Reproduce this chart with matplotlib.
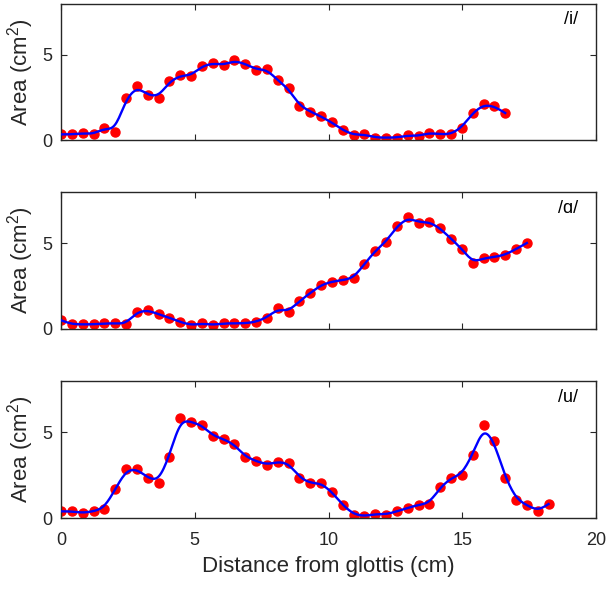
import numpy as np
import matplotlib
matplotlib.use("Agg")
import matplotlib.pyplot as plt

plt.rcParams['font.family'] = ['Liberation Sans', 'DejaVu Sans']
plt.rcParams['mathtext.default'] = 'regular'

# area functions sampled along the tract (cm^2)
dx = 0.405  # sample spacing in cm
i_area = [0.33, 0.33, 0.40, 0.33, 0.72, 0.49, 2.47, 3.17, 2.63, 2.49, 3.44, 3.79, 3.75, 4.34,
          4.51, 4.38, 4.67, 4.47, 4.12, 4.16, 3.50, 3.02, 2.00, 1.67, 1.38, 1.03, 0.58, 0.29,
          0.33, 0.14, 0.14, 0.14, 0.27, 0.23, 0.43, 0.33, 0.33, 0.72, 1.60, 2.10, 1.98, 1.58]
a_area = [0.51, 0.27, 0.27, 0.27, 0.33, 0.33, 0.27, 1.02, 1.11, 0.86, 0.66, 0.41, 0.21, 0.33,
          0.23, 0.33, 0.33, 0.33, 0.41, 0.66, 1.21, 0.98, 1.64, 2.09, 2.58, 2.77, 2.85, 2.95,
          3.79, 4.57, 5.08, 6.00, 6.54, 6.21, 6.27, 5.88, 5.27, 4.69, 3.83, 4.14, 4.20, 4.32,
          4.67, 5.02]
u_area = [0.39, 0.39, 0.29, 0.39, 0.55, 1.67, 2.84, 2.88, 2.35, 2.06, 3.59, 5.85, 5.61, 5.43,
          4.80, 4.61, 4.31, 3.57, 3.33, 3.10, 3.29, 3.24, 2.35, 2.02, 2.06, 1.53, 0.75, 0.20,
          0.10, 0.24, 0.20, 0.39, 0.59, 0.78, 0.82, 1.80, 2.35, 2.51, 3.69, 5.45, 4.47, 2.35,
          1.08, 0.75, 0.39, 0.82]
vowels = ['/i/', '/\u0251/', '/u/']


def smooth(x, y, bw=0.26, n=400):
    # local linear regression with gaussian weights
    xs = np.linspace(x[0], x[-1], n)
    ys = np.empty(n)
    for k, x0 in enumerate(xs):
        w = np.exp(-0.5 * ((x - x0) / bw) ** 2)
        A = np.vstack([np.ones_like(x), x - x0]).T
        W = A * w[:, None]
        beta = np.linalg.solve(A.T @ W + 1e-9 * np.eye(2), W.T @ y)
        ys[k] = beta[0]
    return xs, ys


fig = plt.figure(figsize=(6.06, 5.90), dpi=100)
boxes = [(0.994, 0.7627), (0.6746, 0.4424), (0.3542, 0.122)]
axc = '#262626'

for (top, bot), area, name in zip(boxes, [i_area, a_area, u_area], vowels):
    ax = fig.add_axes([0.1007, bot, 0.8828, top - bot])
    y = np.array(area)
    x = np.arange(len(y)) * dx
    xs, ys = smooth(x, y)
    ax.plot(x, y, 'o', color='red', markersize=6.5, zorder=2)
    ax.plot(xs, ys, color='blue', linewidth=1.7, zorder=3)
    ax.set_xlim(0, 20)
    ax.set_ylim(0, 8)
    ax.set_xticks([0, 5, 10, 15, 20])
    ax.set_yticks([0, 5])
    ax.tick_params(direction='in', top=True, right=True, length=4.5, width=0.8,
                   labelsize=13, colors=axc)
    ax.tick_params(axis='x', pad=10)
    ax.tick_params(axis='y', pad=6)
    for s in ax.spines.values():
        s.set_color(axc)
        s.set_linewidth(1.0)
    ax.set_ylabel('Area (cm$^2$)', fontsize=16, color=axc, labelpad=5)
    ax.text(0.967, 0.88, name, transform=ax.transAxes, ha='right', va='center',
            fontsize=13, color='black')
    if bot > 0.2:
        ax.tick_params(labelbottom=False)
    else:
        ax.set_xlabel('Distance from glottis (cm)', fontsize=16, color=axc, labelpad=5)

fig.savefig('out.png', dpi=100)
